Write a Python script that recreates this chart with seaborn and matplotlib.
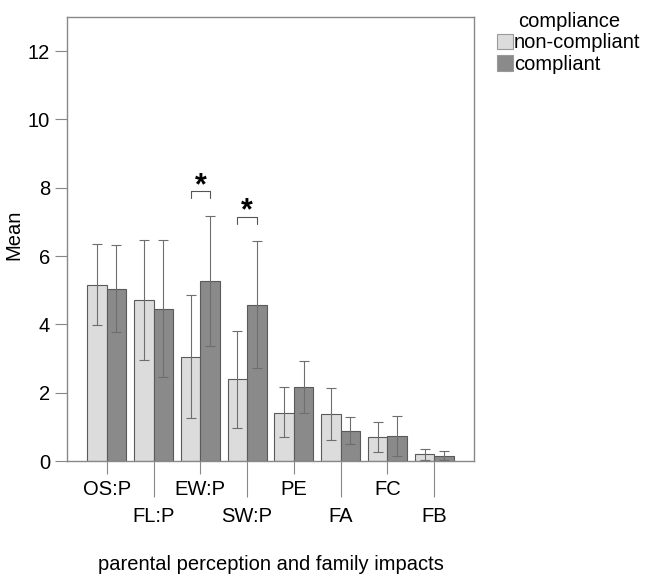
import numpy as np
import pandas as pd
import matplotlib
matplotlib.use("Agg")
import matplotlib.pyplot as plt
import seaborn as sns

# ---- data ----
impacts = ["OS:P", "FL:P", "EW:P", "SW:P", "PE", "FA", "FC", "FB"]
groups = ["non-compliant", "compliant"]

mean_nc = [5.16, 4.72, 3.06, 2.40, 1.42, 1.38, 0.70, 0.20]
lo_nc   = [3.98, 2.96, 1.25, 0.98, 0.71, 0.61, 0.25, 0.03]
hi_nc   = [6.35, 6.47, 4.87, 3.81, 2.16, 2.14, 1.13, 0.36]

mean_c  = [5.05, 4.46, 5.28, 4.58, 2.17, 0.89, 0.74, 0.15]
lo_c    = [3.77, 2.45, 3.38, 2.72, 1.40, 0.49, 0.16, 0.02]
hi_c    = [6.33, 6.47, 7.18, 6.43, 2.92, 1.28, 1.33, 0.30]

# pairs marked as significant
sig_pairs = ["EW:P", "SW:P"]

df = pd.DataFrame({
    "impact": impacts * 2,
    "compliance": [groups[0]] * len(impacts) + [groups[1]] * len(impacts),
    "mean": mean_nc + mean_c,
})
lo = {groups[0]: lo_nc, groups[1]: lo_c}
hi = {groups[0]: hi_nc, groups[1]: hi_c}
means = {groups[0]: mean_nc, groups[1]: mean_c}

# ---- style ----
sns.set_style("ticks")
plt.rcParams["font.family"] = ["Liberation Sans", "DejaVu Sans"]
for k in ["text.color", "axes.labelcolor", "xtick.labelcolor", "ytick.labelcolor"]:
    plt.rcParams[k] = "black"
FS = 14.5
GRAY = "#888888"

fig, ax = plt.subplots(figsize=(6.47, 5.77), dpi=100)
fig.subplots_adjust(left=0.1036, right=0.7326, bottom=0.201, top=0.9705)

sns.barplot(data=df, x="impact", y="mean", hue="compliance", order=impacts,
            hue_order=groups, palette=["#dcdcdc", "#8a8a8a"], width=0.83,
            edgecolor="#5a5a5a", linewidth=0.8, errorbar=None, ax=ax)

# error bars on top of each bar
centers = {}
for g, cont in zip(groups, ax.containers):
    xs = np.array([b.get_x() + b.get_width() / 2 for b in cont])
    centers[g] = xs
    m = np.array(means[g])
    yerr = [m - np.array(lo[g]), np.array(hi[g]) - m]
    ax.errorbar(xs, m, yerr=yerr, fmt="none", ecolor="#6e6e6e",
                elinewidth=0.8, capsize=3.5, capthick=0.8, zorder=5)

# significance brackets
for name in sig_pairs:
    i = impacts.index(name)
    top = max(hi_nc[i], hi_c[i]) + 0.72
    x1, x2 = centers[groups[0]][i], centers[groups[1]][i]
    ax.plot([x1, x1, x2, x2], [top - 0.2, top, top, top - 0.2],
            color="#555555", lw=0.8)
    ax.text((x1 + x2) / 2, top - 0.08, "*", ha="center", va="baseline",
            fontsize=22, fontweight="bold")

ax.set_xlim(-0.85, 7.85)
ax.set_ylim(0, 13)
ax.set_yticks([0, 2, 4, 6, 8, 10, 12])
ax.tick_params(axis="y", labelsize=FS, length=8.6, color=GRAY, width=0.8)

# two-level category labels
ax.set_xticks(range(0, 8, 2), labels=impacts[0::2])
ax.set_xticks(range(1, 8, 2), labels=impacts[1::2], minor=True)
ax.tick_params(axis="x", which="major", labelsize=FS, length=9.4, pad=4,
               color=GRAY, width=0.8)
ax.tick_params(axis="x", which="minor", labelsize=FS, length=26, pad=7,
               color=GRAY, width=0.8)

for s in ax.spines.values():
    s.set_visible(True)
    s.set_color(GRAY)
    s.set_linewidth(1.0)

ax.set_ylabel("Mean", fontsize=FS)
ax.yaxis.set_label_coords(-0.108, 0.51)
ax.set_xlabel("parental perception and family impacts", fontsize=FS)
ax.xaxis.set_label_coords(0.5, -0.212)

ax.legend_.remove()
handles = [plt.Rectangle((0, 0), 1, 1, fc=c, ec="#9a9a9a", lw=0.8)
           for c in ["#dcdcdc", "#8a8a8a"]]
fig.legend(handles, groups, title="compliance", loc="upper left",
           bbox_to_anchor=(497 / 647, 1 - 12 / 577), frameon=False,
           fontsize=FS, title_fontsize=FS, borderpad=0, handlelength=0.8,
           handleheight=0.8, handletextpad=0.05, labelspacing=0.12,
           borderaxespad=0)

plt.savefig("out.png", dpi=100)
